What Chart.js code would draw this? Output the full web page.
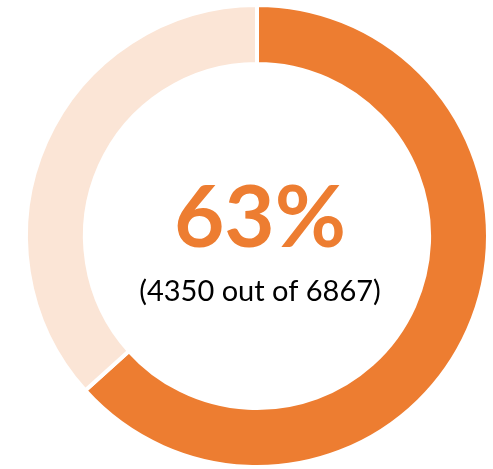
<!DOCTYPE html>
<html>
<head>
<meta charset="utf-8">
<script src="https://cdn.jsdelivr.net/npm/chart.js@4"></script>
<style>
html,body{margin:0;padding:0;background:#fff;}
#wrap{width:493px;height:469px;position:relative;}
</style>
</head>
<body>
<div id="wrap"><canvas id="c" width="493" height="469"></canvas></div>
<script>
const categories = ["Yes", "Remaining"];
const values = [4350, 2517];
const total = 6867;
const percentLabel = "63%";
const subLabel = "(4350 out of 6867)";
const colors = ["#ED7D31", "#FBE5D6"];

const centerText = {
  id: "centerText",
  afterDraw(chart) {
    const ctx = chart.ctx;
    const meta = chart.getDatasetMeta(0);
    const arc = meta.data[0];
    const cx = arc.x + 3, cy = arc.y;
    ctx.save();
    ctx.textAlign = "center";
    ctx.textBaseline = "alphabetic";
    ctx.fillStyle = "#ED7D31";
    ctx.font = "bold 87px Lato";
    ctx.fillText(percentLabel, cx, cy + 11);
    ctx.fillStyle = "#000000";
    ctx.font = "29px Lato";
    ctx.fillText(subLabel, cx, cy + 65);
    ctx.restore();
  }
};

new Chart(document.getElementById("c"), {
  type: "doughnut",
  data: {
    labels: categories,
    datasets: [{
      data: values,
      backgroundColor: colors,
      borderColor: "#ffffff",
      borderWidth: 4,
      hoverOffset: 0
    }]
  },
  options: {
    responsive: false,
    animation: false,
    cutout: "74.5%",
    layout: { padding: { top: 3, bottom: 0, left: 21, right: 0 } },
    plugins: { legend: { display: false }, tooltip: { enabled: false } }
  },
  plugins: [centerText]
});
</script>
</body>
</html>
